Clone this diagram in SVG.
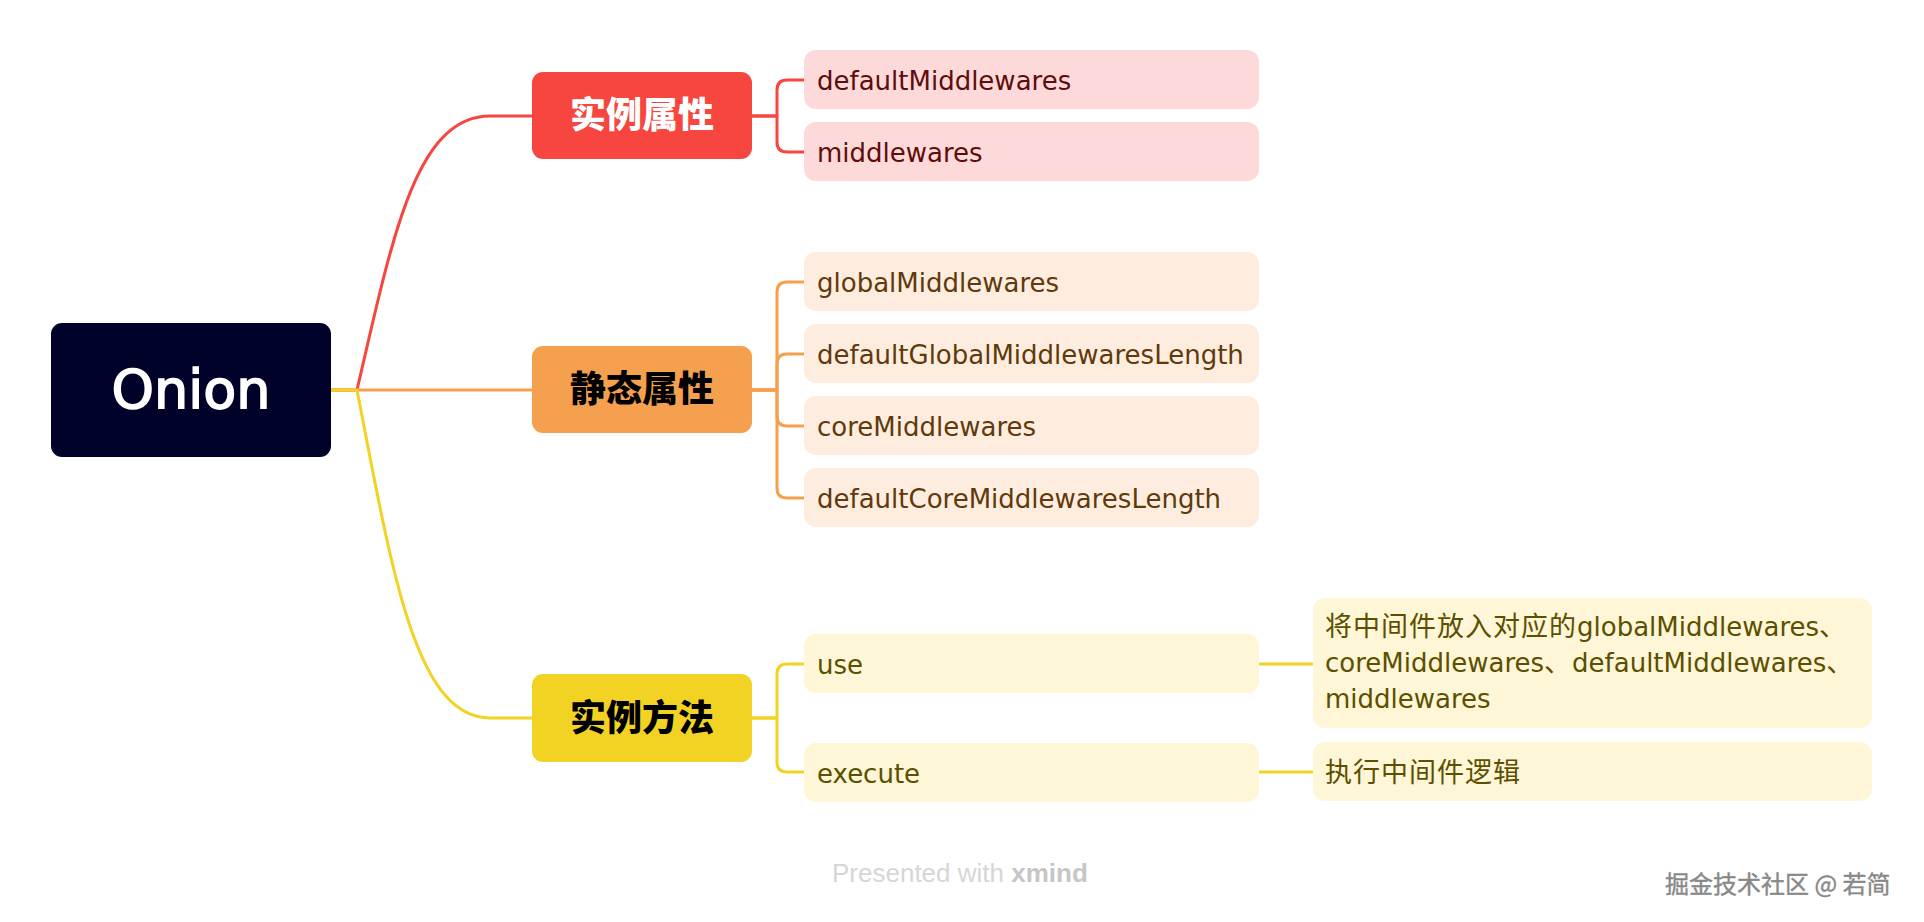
<svg xmlns="http://www.w3.org/2000/svg" width="1924" height="922" viewBox="0 0 1924 922">
<style>
.lat{font-family:"DejaVu Sans","Noto Sans CJK SC",sans-serif;font-size:26px}
.cjk{font-family:"Noto Sans CJK SC",sans-serif;font-size:27px;letter-spacing:1px}
.main{font-family:"Noto Sans CJK SC",sans-serif;font-size:36px;font-weight:900;text-anchor:middle}
.ln{fill:none;stroke-width:3;stroke-linecap:round;stroke-linejoin:round}
.r{stroke:#F7463F}.o{stroke:#F5A04E}.y{stroke:#F2D323}
.rc{fill:#FDDAD9}.oc{fill:#FEEDDE}.yc{fill:#FEF6D6}
.rt{fill:#600C0C}.ot{fill:#5E3A0C}.yt{fill:#5C5000}
</style>
<rect width="1924" height="922" fill="#FFFFFF"/>
<g id="connectors">
<path class="ln r" d="M331,390 H357 C392,240 415,116 490,116 H532"/>
<path class="ln o" d="M331,390 H532"/>
<path class="ln y" d="M331,390 H357 C392,570 415,718 490,718 H532"/>
<path class="ln r" d="M752,116 H777 V90 Q777,80 787,80 H804"/>
<path class="ln r" d="M752,116 H777 V142 Q777,152 787,152 H804"/>
<path class="ln o" d="M752,390 H777 V292 Q777,282 787,282 H804"/>
<path class="ln o" d="M752,390 H777 V364 Q777,354 787,354 H804"/>
<path class="ln o" d="M752,390 H777 V416 Q777,426 787,426 H804"/>
<path class="ln o" d="M752,390 H777 V488 Q777,498 787,498 H804"/>
<path class="ln y" d="M752,718 H777 V674 Q777,664 787,664 H804"/>
<path class="ln y" d="M752,718 H777 V762 Q777,772 787,772 H804"/>
<path class="ln y" d="M1259,664 H1313"/>
<path class="ln y" d="M1259,772 H1313"/>
</g>
<g id="onion">
<rect x="51" y="323" width="280" height="134" rx="11" fill="#000229"/>
<text x="191" y="408" font-family="DejaVu Sans,sans-serif" font-size="54" fill="#FFFFFF" stroke="#FFFFFF" stroke-width="1.6" text-anchor="middle">Onion</text>
</g>
<g id="shili-shuxing">
<rect x="532" y="72" width="220" height="87" rx="11" fill="#F7463F"/>
<text class="main" x="642" y="128" fill="#FFFFFF">实例属性</text>
</g>
<g id="jingtai-shuxing">
<rect x="532" y="346" width="220" height="87" rx="11" fill="#F5A04E"/>
<text class="main" x="642" y="402" fill="#000000">静态属性</text>
</g>
<g id="shili-fangfa">
<rect x="532" y="674" width="220" height="88" rx="11" fill="#F2D323"/>
<text class="main" x="642" y="731" fill="#000000">实例方法</text>
</g>
<g id="defaultMiddlewares">
<rect class="rc" x="804" y="50" width="455" height="59" rx="12"/>
<text class="lat rt" x="817" y="90">defaultMiddlewares</text>
</g>
<g id="middlewares">
<rect class="rc" x="804" y="122" width="455" height="59" rx="12"/>
<text class="lat rt" x="817" y="162">middlewares</text>
</g>
<g id="globalMiddlewares">
<rect class="oc" x="804" y="252" width="455" height="59" rx="12"/>
<text class="lat ot" x="817" y="292">globalMiddlewares</text>
</g>
<g id="defaultGlobalMiddlewaresLength">
<rect class="oc" x="804" y="324" width="455" height="59" rx="12"/>
<text class="lat ot" x="817" y="364">defaultGlobalMiddlewaresLength</text>
</g>
<g id="coreMiddlewares">
<rect class="oc" x="804" y="396" width="455" height="59" rx="12"/>
<text class="lat ot" x="817" y="436">coreMiddlewares</text>
</g>
<g id="defaultCoreMiddlewaresLength">
<rect class="oc" x="804" y="468" width="455" height="59" rx="12"/>
<text class="lat ot" x="817" y="508">defaultCoreMiddlewaresLength</text>
</g>
<g id="use">
<rect class="yc" x="804" y="634" width="455" height="59" rx="12"/>
<text class="lat yt" x="817" y="674">use</text>
</g>
<g id="execute">
<rect class="yc" x="804" y="743" width="455" height="59" rx="12"/>
<text class="lat yt" x="817" y="783">execute</text>
</g>
<g id="use-note">
<rect class="yc" x="1313" y="598" width="559" height="130" rx="12"/>
<text class="lat yt" x="1325" y="636"><tspan class="cjk">将中间件放入对应的</tspan>globalMiddlewares<tspan class="cjk">、</tspan></text>
<text class="lat yt" x="1325" y="672">coreMiddlewares<tspan class="cjk">、</tspan>defaultMiddlewares<tspan class="cjk">、</tspan></text>
<text class="lat yt" x="1325" y="708">middlewares</text>
</g>
<g id="execute-note">
<rect class="yc" x="1313" y="742" width="559" height="59" rx="12"/>
<text class="cjk yt" x="1325" y="782">执行中间件逻辑</text>
</g>
<text x="832" y="882" font-family="Liberation Sans,sans-serif" font-size="26" fill="#D6D6D6">Presented with <tspan font-weight="700" fill="#C6C6C6">xmind</tspan></text>
<text x="1665" y="893" font-family="Noto Sans CJK SC,sans-serif" font-size="24" fill="#888888" stroke="#888888" stroke-width="0.4">掘金技术社区 @ 若简</text>
</svg>
